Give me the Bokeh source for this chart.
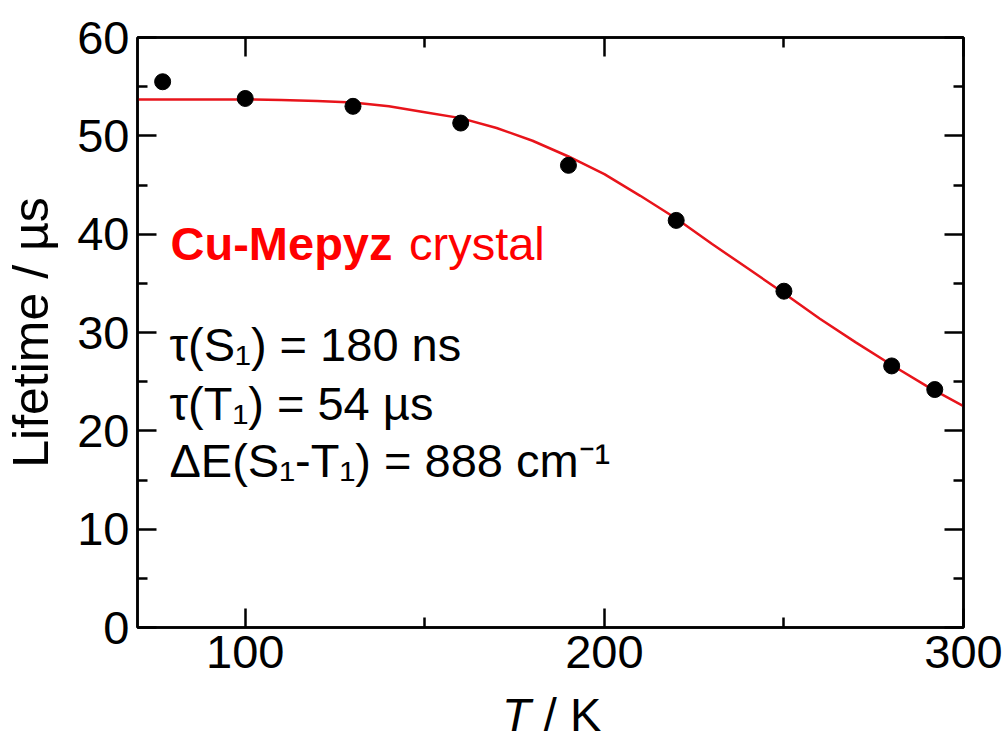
from bokeh.plotting import figure
from bokeh.models import FixedTicker, LinearAxis, Label, Range1d, Div
from bokeh.layouts import column
from bokeh.embed import file_html
from bokeh.resources import INLINE

# measured lifetimes
temps = [77, 100, 130, 160, 190, 220, 250, 280, 292]
lifetimes = [55.5, 53.8, 53.0, 51.3, 47.0, 41.4, 34.2, 26.6, 24.2]

# fitted curve
curve_T = [70, 80, 90, 100, 110, 120, 130, 140, 150, 160, 170, 180, 190,
           200, 210, 220, 230, 240, 250, 260, 270, 280, 290, 300]
curve_tau = [53.7, 53.7, 53.7, 53.7, 53.65, 53.55, 53.4, 53.0, 52.4, 51.8,
             50.8, 49.5, 47.9, 46.1, 43.9, 41.6, 39.0, 36.5, 34.0, 31.4,
             29.0, 26.7, 24.5, 22.5]

x_major = [100, 200, 300]
x_minor = [150, 250]
y_major = [0, 10, 20, 30, 40, 50, 60]
y_minor = [5, 15, 25, 35, 45, 55]

FONT = "Liberation Sans"
FS = "47px"
RED = "#ff0000"
DY = 1.78  # baseline correction for labels (data units)

p = figure(width=1006, height=691, x_range=Range1d(70, 300), y_range=Range1d(0, 60),
           output_backend="svg", toolbar_location=None,
           min_border_left=137, min_border_right=43, min_border_top=37, min_border_bottom=64)
p.xgrid.visible = False
p.ygrid.visible = False
p.outline_line_color = "black"
p.outline_line_width = 2.5
p.background_fill_color = "white"
p.border_fill_color = "white"

def style_axis(ax, ticks, minor, labels=True):
    ax.ticker = FixedTicker(ticks=ticks, minor_ticks=minor)
    ax.axis_line_color = "black"
    ax.axis_line_width = 2.5
    ax.major_tick_line_width = 2.5
    ax.minor_tick_line_width = 2.5
    ax.major_tick_line_color = "black"
    ax.minor_tick_line_color = "black"
    ax.major_tick_in = 19
    ax.major_tick_out = 0
    ax.minor_tick_in = 10
    ax.minor_tick_out = 0
    ax.major_label_text_font = FONT
    ax.major_label_text_color = "black"
    if labels:
        ax.major_label_text_font_size = FS
        ax.major_label_standoff = 8
    else:
        ax.major_label_overrides = {t: "" for t in ticks}
        ax.major_label_text_font_size = "1px"
        ax.major_label_standoff = 0

style_axis(p.xaxis[0], x_major, x_minor)
style_axis(p.yaxis[0], y_major, y_minor)
p.yaxis[0].axis_label = "Lifetime / \u00b5s"
p.yaxis[0].axis_label_text_font = FONT
p.yaxis[0].axis_label_text_font_size = "50px"
p.yaxis[0].axis_label_text_font_style = "normal"
p.yaxis[0].axis_label_text_color = "black"
p.yaxis[0].axis_label_standoff = 15

top = LinearAxis()
style_axis(top, x_major, x_minor, labels=False)
p.add_layout(top, "above")
right = LinearAxis()
style_axis(right, y_major, y_minor, labels=False)
p.add_layout(right, "right")

p.line(curve_T, curve_tau, line_color="#e8141b", line_width=2.5)
p.scatter(temps, lifetimes, size=16, fill_color="black", line_color="black")

# annotations
p.add_layout(Label(x=79.2, y=37.3 + DY, text="Cu-Mepyz", text_font=FONT, text_font_size=FS,
                   text_font_style="bold", text_baseline="alphabetic", text_color=RED))
p.add_layout(Label(x=145.6, y=37.3 + DY, text="crystal", text_font=FONT, text_font_size=FS,
                   text_baseline="alphabetic", text_color=RED))
p.add_layout(Label(x=78.9, y=26.95 + DY, text="\u03c4(S\u2081) = 180 ns", text_font=FONT,
                   text_font_size=FS, text_baseline="alphabetic", text_color="black"))
p.add_layout(Label(x=78.9, y=21.05 + DY, text="\u03c4(T\u2081) = 54 \u00b5s", text_font=FONT,
                   text_font_size=FS, text_baseline="alphabetic", text_color="black"))
p.add_layout(Label(x=78.9, y=15.25 + DY, text="\u0394E(S\u2081-T\u2081) = 888 cm\u207b\u00b9",
                   text_font=FONT, text_font_size=FS, text_baseline="alphabetic",
                   text_color="black"))

# x axis title with italic T
xlabel = Div(text='<div style="margin-left:502px;font-family:\'Liberation Sans\';'
                  'font-size:47px;line-height:47px;white-space:nowrap;color:black">'
                  '<i>T</i> / K</div>',
             width=1006, height=42, margin=(0, 0, 0, 0))

layout = column(p, xlabel, spacing=0)
open("out.html", "w").write(file_html(layout, INLINE))
